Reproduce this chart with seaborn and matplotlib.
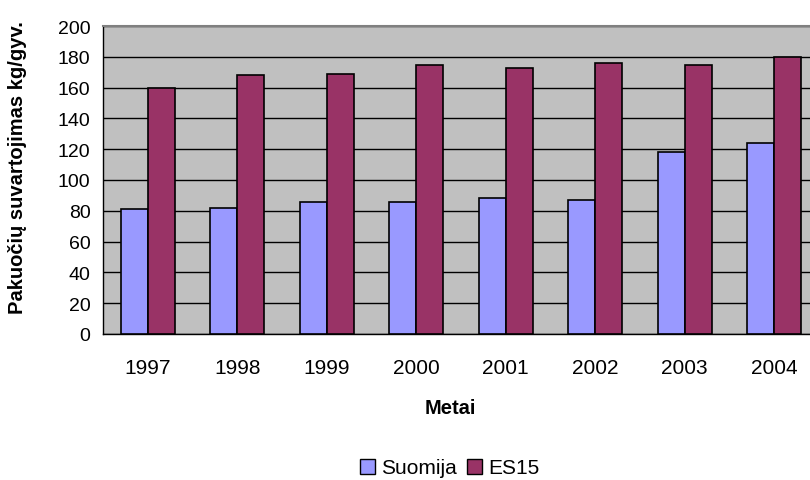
import matplotlib
matplotlib.use("Agg")
import matplotlib.pyplot as plt
import seaborn as sns
import pandas as pd
from matplotlib.patches import Patch

years = ["1997", "1998", "1999", "2000", "2001", "2002", "2003", "2004"]
suomija = [81, 82, 86, 86, 88, 87, 118, 124]
es15 = [160, 168, 169, 175, 172.5, 176, 175, 180]
series_names = ["Suomija", "ES15"]
colors = ["#9999FF", "#993366"]

df = pd.DataFrame({
    "Metai": years * 2,
    "value": suomija + es15,
    "series": [series_names[0]] * len(years) + [series_names[1]] * len(years),
})

sns.set_style("white")
plt.rcParams["font.family"] = ["Liberation Sans", "DejaVu Sans"]
plt.rcParams.update({
    "text.color": "black",
    "axes.labelcolor": "black",
    "xtick.color": "black",
    "ytick.color": "black",
})

W, H = 810, 481
fig = plt.figure(figsize=(W / 100, H / 100), dpi=100)
ax_h = 335 - 27
ax_w = 716
ax = fig.add_axes([103 / W, 1 - 335 / H, ax_w / W, ax_h / H])
ax.set_facecolor("#C0C0C0")

sns.barplot(data=df, x="Metai", y="value", hue="series", palette=colors,
            width=0.6, edgecolor="black", linewidth=1.2, saturation=1,
            legend=False, ax=ax, zorder=3)

ax.set_ylim(0, 200)
ax.set_xlim(-0.5, len(years) - 0.5)
ax.set_yticks(range(0, 201, 20))
ax.yaxis.grid(True, color="black", linewidth=1, zorder=0)
ax.set_axisbelow(True)

# category ticks sit between groups, year labels at group centres
ax.set_xticks([i + 0.5 for i in range(len(years) - 1)], labels=[""] * (len(years) - 1))
ax.set_xticks(range(len(years)), minor=True, labels=years)
ax.tick_params(axis="x", which="major", length=5, width=1, color="black", direction="out")
ax.tick_params(axis="x", which="minor", length=0, labelsize=15, pad=17, labelcolor="black")
ax.tick_params(axis="y", length=6, width=1, color="black", direction="out", labelsize=14,
               pad=3, labelcolor="black")

for side in ["left", "bottom"]:
    ax.spines[side].set_color("black")
    ax.spines[side].set_linewidth(1)
ax.spines["top"].set_color("#808080")
ax.spines["top"].set_linewidth(1.5)
ax.spines["right"].set_visible(False)

ax.set_xlabel("Metai", fontsize=14.5, fontweight="bold", color="black")
ax.xaxis.label.set_va("center")
ax.xaxis.set_label_coords((450 - 103) / ax_w, -(409 - 335) / ax_h)

ax.set_ylabel("Pakuočių suvartojimas kg/gyv.", fontsize=14.5, fontweight="bold", color="black")
ax.yaxis.label.set_va("center")
ax.yaxis.set_label_coords(-(103 - 18) / ax_w, (335 - 168) / ax_h)

handles = [Patch(facecolor=c, edgecolor="black", linewidth=1) for c in colors]
fig.legend(handles, series_names, loc="center", bbox_to_anchor=(450 / W, 1 - 469 / H),
           ncol=2, frameon=False, fontsize=15, handlelength=0.7, handleheight=0.7,
           handletextpad=0.3, columnspacing=0.5, borderpad=0, labelcolor="black")

fig.savefig("out.png", dpi=100)
